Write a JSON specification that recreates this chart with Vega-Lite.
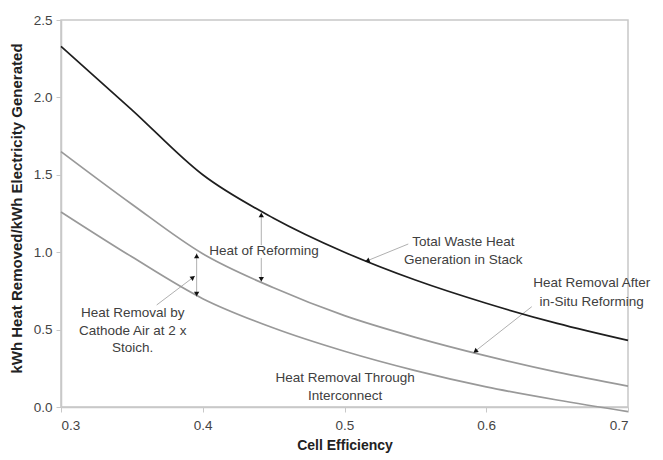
{
  "$schema": "https://vega.github.io/schema/vega-lite/v6.json",
  "width": 567,
  "height": 387,
  "autosize": "none",
  "padding": {"left": 61, "top": 20, "right": 35, "bottom": 53},
  "background": "white",
  "config": {
    "view": {"stroke": "#c8c8c8", "strokeWidth": 1.5},
    "font": "Liberation Sans",
    "axis": {
      "grid": false,
      "domainColor": "#c8c8c8",
      "domainWidth": 1.5,
      "tickColor": "#c8c8c8",
      "tickSize": 5,
      "labelFont": "Liberation Sans",
      "labelFontSize": 13.5,
      "labelColor": "#444444",
      "titleFont": "Liberation Sans",
      "titleFontSize": 14,
      "titleFontWeight": "bold",
      "titleColor": "#222222"
    }
  },
  "datasets": {
    "curves": [
      {"eff": 0.30, "value": 2.33, "series": "total"},
      {"eff": 0.35, "value": 1.92, "series": "total"},
      {"eff": 0.40, "value": 1.50, "series": "total"},
      {"eff": 0.45, "value": 1.22, "series": "total"},
      {"eff": 0.50, "value": 1.00, "series": "total"},
      {"eff": 0.55, "value": 0.82, "series": "total"},
      {"eff": 0.60, "value": 0.67, "series": "total"},
      {"eff": 0.65, "value": 0.54, "series": "total"},
      {"eff": 0.70, "value": 0.43, "series": "total"},
      {"eff": 0.30, "value": 1.65, "series": "after"},
      {"eff": 0.35, "value": 1.31, "series": "after"},
      {"eff": 0.40, "value": 0.99, "series": "after"},
      {"eff": 0.45, "value": 0.77, "series": "after"},
      {"eff": 0.50, "value": 0.59, "series": "after"},
      {"eff": 0.55, "value": 0.45, "series": "after"},
      {"eff": 0.60, "value": 0.33, "series": "after"},
      {"eff": 0.65, "value": 0.225, "series": "after"},
      {"eff": 0.70, "value": 0.135, "series": "after"},
      {"eff": 0.30, "value": 1.26, "series": "interconnect"},
      {"eff": 0.35, "value": 0.97, "series": "interconnect"},
      {"eff": 0.40, "value": 0.70, "series": "interconnect"},
      {"eff": 0.45, "value": 0.51, "series": "interconnect"},
      {"eff": 0.50, "value": 0.36, "series": "interconnect"},
      {"eff": 0.55, "value": 0.235, "series": "interconnect"},
      {"eff": 0.60, "value": 0.13, "series": "interconnect"},
      {"eff": 0.65, "value": 0.045, "series": "interconnect"},
      {"eff": 0.70, "value": -0.03, "series": "interconnect"}
    ],
    "leaders": [
      {"x": 0.4413, "y": 1.258, "x2": 0.4413, "y2": 1.046},
      {"x": 0.4413, "y": 0.963, "x2": 0.4413, "y2": 0.807},
      {"x": 0.3957, "y": 0.993, "x2": 0.3957, "y2": 0.712},
      {"x": 0.3675, "y": 0.659, "x2": 0.3945, "y2": 0.846},
      {"x": 0.545, "y": 1.053, "x2": 0.5145, "y2": 0.939},
      {"x": 0.6321, "y": 0.648, "x2": 0.5909, "y2": 0.351}
    ],
    "labels": [
      {"x": 0.4432, "y": 1.008, "text": "Heat of Reforming"},
      {"x": 0.3506, "y": 0.607, "text": "Heat Removal by"},
      {"x": 0.3506, "y": 0.491, "text": "Cathode Air at 2 x"},
      {"x": 0.3506, "y": 0.381, "text": "Stoich."},
      {"x": 0.5838, "y": 1.068, "text": "Total Waste Heat"},
      {"x": 0.5838, "y": 0.950, "text": "Generation in Stack"},
      {"x": 0.6744, "y": 0.799, "text": "Heat Removal After"},
      {"x": 0.6744, "y": 0.676, "text": "in-Situ Reforming"},
      {"x": 0.5004, "y": 0.185, "text": "Heat Removal Through"},
      {"x": 0.5004, "y": 0.073, "text": "Interconnect"}
    ]
  },
  "layer": [
    {
      "data": {"name": "leaders"},
      "mark": {"type": "rule", "color": "#b0b0b0", "strokeWidth": 1},
      "encoding": {
        "x": {"field": "x", "type": "quantitative", "scale": {"domain": [0.3, 0.7], "nice": false}},
        "y": {"field": "y", "type": "quantitative", "scale": {"domain": [0, 2.5], "nice": false}},
        "x2": {"field": "x2"},
        "y2": {"field": "y2"}
      }
    },
    {
      "data": {"name": "curves"},
      "mark": {"type": "line", "interpolate": "monotone", "strokeWidth": 1.7},
      "encoding": {
        "x": {
          "field": "eff", "type": "quantitative",
          "scale": {"domain": [0.3, 0.7], "nice": false},
          "axis": {"values": [0.3, 0.4, 0.5, 0.6, 0.7], "format": ".1f", "title": "Cell Efficiency", "labelPadding": 6, "titlePadding": 7}
        },
        "y": {
          "field": "value", "type": "quantitative",
          "scale": {"domain": [0, 2.5], "nice": false},
          "axis": {"values": [0, 0.5, 1, 1.5, 2, 2.5], "format": ".1f", "title": "kWh Heat Removed/kWh Electricity Generated", "titleFontSize": 15, "titleY": 188, "labelPadding": 4, "titlePadding": 9}
        },
        "detail": {"field": "series"},
        "color": {
          "field": "series", "type": "nominal",
          "scale": {"domain": ["total", "after", "interconnect"], "range": ["#1e1e1e", "#999999", "#999999"]},
          "legend": null
        }
      }
    },
    {
      "data": {"values": [{"x": 0.4413, "y": 1.24}, {"x": 0.3957, "y": 0.975}]},
      "mark": {"type": "point", "shape": "triangle-up", "filled": true, "size": 28, "color": "#111111", "opacity": 1, "angle": 0},
      "encoding": {"x": {"field": "x", "type": "quantitative"}, "y": {"field": "y", "type": "quantitative"}}
    },
    {
      "data": {"values": [{"x": 0.4413, "y": 0.825}, {"x": 0.3957, "y": 0.73}]},
      "mark": {"type": "point", "shape": "triangle-up", "filled": true, "size": 28, "color": "#111111", "opacity": 1, "angle": 180},
      "encoding": {"x": {"field": "x", "type": "quantitative"}, "y": {"field": "y", "type": "quantitative"}}
    },
    {
      "data": {"values": [{"x": 0.3931, "y": 0.837}]},
      "mark": {"type": "point", "shape": "triangle-up", "filled": true, "size": 28, "color": "#111111", "opacity": 1, "angle": 53},
      "encoding": {"x": {"field": "x", "type": "quantitative"}, "y": {"field": "y", "type": "quantitative"}}
    },
    {
      "data": {"values": [{"x": 0.5161, "y": 0.944}]},
      "mark": {"type": "point", "shape": "triangle-up", "filled": true, "size": 28, "color": "#111111", "opacity": 1, "angle": 248},
      "encoding": {"x": {"field": "x", "type": "quantitative"}, "y": {"field": "y", "type": "quantitative"}}
    },
    {
      "data": {"values": [{"x": 0.5923, "y": 0.360}]},
      "mark": {"type": "point", "shape": "triangle-up", "filled": true, "size": 28, "color": "#111111", "opacity": 1, "angle": 232},
      "encoding": {"x": {"field": "x", "type": "quantitative"}, "y": {"field": "y", "type": "quantitative"}}
    },
    {
      "data": {"name": "labels"},
      "mark": {"type": "text", "align": "center", "baseline": "middle", "font": "Liberation Sans", "fontSize": 13.5, "color": "#404040"},
      "encoding": {
        "x": {"field": "x", "type": "quantitative"},
        "y": {"field": "y", "type": "quantitative"},
        "text": {"field": "text"}
      }
    }
  ]
}
